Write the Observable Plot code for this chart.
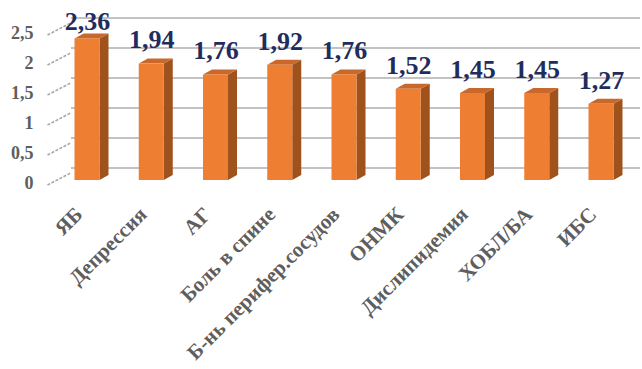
<!DOCTYPE html>
<html>
<head>
<meta charset="utf-8">
<script src="https://cdn.jsdelivr.net/npm/d3@7"></script>
<script src="https://cdn.jsdelivr.net/npm/@observablehq/plot@0.6"></script>
<style>
  html, body { margin: 0; padding: 0; background: #ffffff; }
  #chart { width: 642px; height: 369px; }
</style>
</head>
<body>
<div id="chart"></div>
<script>
// ---- data ----
const categories = ["ЯБ", "Депрессия", "АГ", "Боль в спине", "Б-нь перифер.сосудов", "ОНМК", "Дислипидемия", "ХОБЛ/БА", "ИБС"];
const values = [2.36, 1.94, 1.76, 1.92, 1.76, 1.52, 1.45, 1.45, 1.27];
const yTicks = [0, 0.5, 1, 1.5, 2, 2.5];
const yTickLabels = ["0", "0,5", "1", "1,5", "2", "2,5"];

// ---- layout (pixel geometry converted to data units) ----
const X_RANGE = [87, 601];
const Y_RANGE = [180, 30];
const pxPerX = (X_RANGE[1] - X_RANGE[0]) / (categories.length - 1);
const pxPerY = (Y_RANGE[0] - Y_RANGE[1]) / 2.5;
const pxX = p => (p - X_RANGE[0]) / pxPerX;
const HW = 12.5 / pxPerX;   // half front width
const DX = 9 / pxPerX;      // depth x
const DY = 5 / pxPerY;      // depth y
const LABEL_CLAMP = 2.25;   // labels are kept inside the plot area (as in the reference)

const FRONT = "#ee7e32", SIDE = "#a0521d", TOP = "#c9682a";
const NAVY = "#1f2d5e", GRAY = "#5e5e5e";
const FONT = "Liberation Serif";

const bars = categories.map((c, i) => ({c, i, v: values[i]}));
const sidePts = bars.flatMap(d => [
  {k: d.i, x: d.i + HW, y1: 0, y2: d.v},
  {k: d.i, x: d.i + HW + DX, y1: DY, y2: d.v + DY}
]);
const topPts = bars.flatMap(d => [
  {k: d.i, y: d.v, x1: d.i - HW, x2: d.i + HW},
  {k: d.i, y: d.v + DY, x1: d.i - HW + DX, x2: d.i + HW + DX}
]);
const fmt = v => String(v).replace(".", ",");

const chart = Plot.plot({
  width: 642,
  height: 369,
  marginLeft: 71,
  marginRight: 2,
  marginTop: 10,
  marginBottom: 10,
  style: {fontFamily: FONT, background: "#ffffff", overflow: "visible"},
  x: {type: "linear", domain: [0, categories.length - 1], range: X_RANGE, axis: null},
  y: {type: "linear", domain: [0, 2.5], range: Y_RANGE, axis: null},
  marks: [
    // back-wall gridlines
    Plot.ruleY(yTicks, {y: d => d, dy: -12.5, stroke: "#c2c2c2", strokeWidth: 2.2}),
    // floor diagonal ticks
    Plot.link(yTicks, {
      x1: pxX(47), x2: pxX(71),
      y1: d => d - 4.5 / pxPerY, y2: d => d + 8 / pxPerY,
      stroke: "#a8a8a8", strokeWidth: 1.6, strokeDasharray: "3,1.5"
    }),
    // 3D bars
    Plot.area(sidePts, {x1: "x", y1: "y1", y2: "y2", z: "k", fill: SIDE}),
    Plot.area(topPts, {x1: "x1", x2: "x2", y1: "y", z: "k", fill: TOP}),
    Plot.rect(bars, {x1: d => d.i - HW, x2: d => d.i + HW, y1: 0, y2: "v", fill: FRONT}),
    // value labels
    Plot.text(bars, {
      x: "i", y: d => Math.min(d.v, LABEL_CLAMP), text: d => fmt(d.v), dy: -24,
      fill: NAVY, fontSize: 26, fontWeight: "bold", fontFamily: FONT
    }),
    // category labels
    Plot.text(bars, {
      x: "i", y: 0, text: "c", rotate: -45, textAnchor: "end",
      dx: -8.5, dy: 30.5, fill: GRAY, fontSize: 21, fontWeight: "bold", fontFamily: FONT
    }),
    // y tick labels
    Plot.text(yTicks, {
      y: d => d, text: (d, i) => yTickLabels[i], frameAnchor: "left", textAnchor: "end",
      dx: -38, dy: 3, fill: GRAY, fontSize: 18, fontWeight: "bold", fontFamily: FONT
    })
  ]
});
document.getElementById("chart").appendChild(chart);
</script>
</body>
</html>
